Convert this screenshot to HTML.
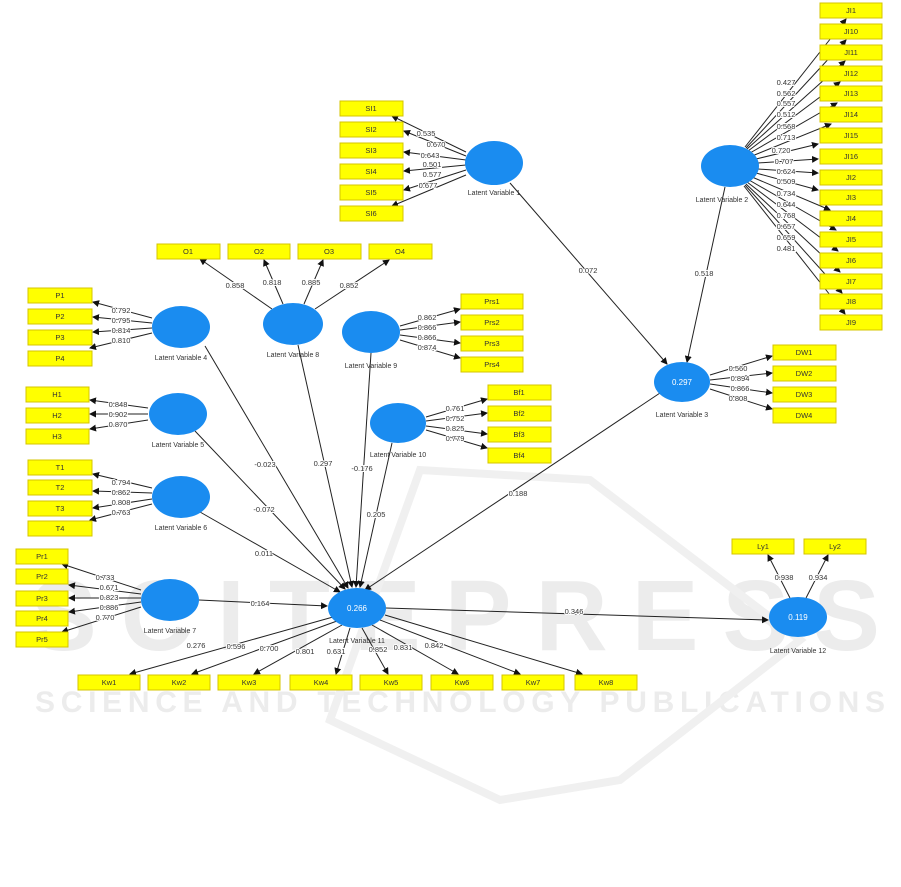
<!DOCTYPE html><html><head><style>body{margin:0;background:#fff}svg{display:block}text{font-family:"Liberation Sans",sans-serif}</style></head><body>
<svg width="901" height="887" viewBox="0 0 901 887" xmlns="http://www.w3.org/2000/svg">
<defs><marker id="a" markerWidth="7" markerHeight="7" refX="6" refY="3.5" orient="auto" markerUnits="userSpaceOnUse"><path d="M0,0L7,3.5L0,7z" fill="#111"/></marker></defs>
<g fill="#e6e6e6" font-weight="bold">
<text x="30" y="650" font-size="100" fill="#ececec" textLength="850">SCITEPRESS</text>
<text x="35" y="712" font-size="30" fill="#ececec" textLength="850">SCIENCE AND TECHNOLOGY PUBLICATIONS</text>
</g>
<path d="M330 720 L420 470 L590 480 L800 640 L620 780 L500 800Z" fill="none" stroke="#f0f0f0" stroke-width="8"/>
<g stroke="#222" stroke-width="1" marker-end="url(#a)" fill="none">
<!-- structural -->
<line x1="205" y1="346" x2="348" y2="588"/>
<line x1="298" y1="345" x2="352" y2="587"/>
<line x1="371" y1="353" x2="356" y2="587"/>
<line x1="392" y1="443" x2="360" y2="587"/>
<line x1="195" y1="431" x2="345" y2="589"/>
<line x1="200" y1="512" x2="340" y2="592"/>
<line x1="199" y1="600" x2="327" y2="606"/>
<line x1="660" y1="393" x2="365" y2="590"/>
<line x1="510" y1="183" x2="667" y2="364"/>
<line x1="725" y1="187" x2="687" y2="362"/>
<line x1="386" y1="608" x2="768" y2="620"/>
<!-- LV11 -> Kw -->
<line x1="333" y1="617" x2="130" y2="674"/>
<line x1="337" y1="621" x2="192" y2="674"/>
<line x1="342" y1="625" x2="254" y2="674"/>
<line x1="350" y1="628" x2="336" y2="674"/>
<line x1="362" y1="628" x2="388" y2="674"/>
<line x1="372" y1="625" x2="458" y2="674"/>
<line x1="380" y1="620" x2="520" y2="674"/>
<line x1="385" y1="615" x2="582" y2="674"/>
<!-- LV4 -> P -->
<line x1="152" y1="318" x2="93" y2="302"/><line x1="152" y1="323" x2="93" y2="317"/><line x1="152" y1="328" x2="93" y2="332"/><line x1="152" y1="333" x2="90" y2="348"/>
<line x1="148" y1="408" x2="90" y2="400"/><line x1="148" y1="414" x2="90" y2="414"/><line x1="148" y1="420" x2="90" y2="429"/>
<line x1="152" y1="488" x2="93" y2="474"/><line x1="152" y1="493" x2="93" y2="491"/><line x1="152" y1="499" x2="93" y2="508"/><line x1="152" y1="504" x2="90" y2="520"/>
<line x1="141" y1="590" x2="62" y2="564"/><line x1="141" y1="594" x2="69" y2="585"/><line x1="141" y1="598" x2="69" y2="598"/><line x1="141" y1="602" x2="69" y2="612"/><line x1="141" y1="607" x2="62" y2="632"/>
<!-- LV8 -> O -->
<line x1="272" y1="309" x2="200" y2="259"/><line x1="283" y1="304" x2="264" y2="260"/><line x1="304" y1="304" x2="323" y2="260"/><line x1="315" y1="309" x2="389" y2="260"/>
<!-- LV9 -> Prs -->
<line x1="400" y1="326" x2="460" y2="309"/><line x1="400" y1="330" x2="460" y2="322"/><line x1="400" y1="335" x2="460" y2="343"/><line x1="400" y1="340" x2="460" y2="358"/>
<line x1="426" y1="417" x2="487" y2="399"/><line x1="426" y1="421" x2="487" y2="413"/><line x1="426" y1="426" x2="487" y2="434"/><line x1="426" y1="430" x2="487" y2="448"/>
<!-- LV3 -> DW -->
<line x1="710" y1="375" x2="772" y2="356"/><line x1="710" y1="380" x2="772" y2="373"/><line x1="710" y1="384" x2="772" y2="393"/><line x1="710" y1="389" x2="772" y2="409"/>
<!-- LV12 -> Ly -->
<line x1="790" y1="598" x2="768" y2="555"/><line x1="806" y1="598" x2="828" y2="555"/>
<!-- LV1 -> SI -->
<line x1="466" y1="152" x2="392" y2="116"/><line x1="466" y1="156" x2="404" y2="131"/><line x1="466" y1="160" x2="404" y2="152"/><line x1="466" y1="165" x2="404" y2="171"/><line x1="466" y1="170" x2="404" y2="190"/><line x1="466" y1="175" x2="392" y2="206"/>
<!-- LV2 -> JI -->
<line x1="745" y1="147" x2="846" y2="19"/><line x1="746" y1="148" x2="846" y2="40"/><line x1="747" y1="149" x2="845" y2="61"/><line x1="748" y1="151" x2="840" y2="82"/><line x1="750" y1="153" x2="837" y2="103"/><line x1="752" y1="156" x2="831" y2="124"/><line x1="756" y1="159" x2="818" y2="144"/><line x1="758" y1="163" x2="818" y2="159"/><line x1="758" y1="169" x2="818" y2="173"/><line x1="756" y1="173" x2="818" y2="190"/><line x1="752" y1="177" x2="830" y2="210"/><line x1="749" y1="180" x2="836" y2="230"/><line x1="747" y1="182" x2="838" y2="251"/><line x1="746" y1="184" x2="840" y2="272"/><line x1="745" y1="185" x2="842" y2="293"/><line x1="744" y1="186" x2="845" y2="314"/>
</g>
<g fill="#1a8cf0">
<ellipse cx="181" cy="327" rx="29" ry="21"/><ellipse cx="293" cy="324" rx="30" ry="21"/><ellipse cx="371" cy="332" rx="29" ry="21"/>
<ellipse cx="178" cy="414" rx="29" ry="21"/><ellipse cx="398" cy="423" rx="28" ry="20"/><ellipse cx="181" cy="497" rx="29" ry="21"/>
<ellipse cx="170" cy="600" rx="29" ry="21"/><ellipse cx="357" cy="608" rx="29" ry="20"/><ellipse cx="798" cy="617" rx="29" ry="20"/>
<ellipse cx="682" cy="382" rx="28" ry="20"/><ellipse cx="494" cy="163" rx="29" ry="22"/><ellipse cx="730" cy="166" rx="29" ry="21"/>
</g>
<g fill="#fff" font-size="8" text-anchor="middle"><text x="357" y="611">0.266</text><text x="798" y="620">0.119</text><text x="682" y="385">0.297</text></g>
<g font-size="7" fill="#333" text-anchor="middle">
<text x="181" y="360">Latent Variable 4</text><text x="293" y="357">Latent Variable 8</text><text x="371" y="368">Latent Variable 9</text>
<text x="178" y="447">Latent Variable 5</text><text x="398" y="457">Latent Variable 10</text><text x="181" y="530">Latent Variable 6</text>
<text x="170" y="633">Latent Variable 7</text><text x="357" y="643">Latent Variable 11</text><text x="798" y="653">Latent Variable 12</text>
<text x="682" y="417">Latent Variable 3</text><text x="494" y="195">Latent Variable 1</text><text x="722" y="202">Latent Variable 2</text>
</g>
<g fill="#ff0" stroke="#d4c400" stroke-width="1">
<rect x="28" y="288" width="64" height="15"/><rect x="28" y="309" width="64" height="15"/><rect x="28" y="330" width="64" height="15"/><rect x="28" y="351" width="64" height="15"/>
<rect x="26" y="387" width="63" height="15"/><rect x="26" y="408" width="63" height="15"/><rect x="26" y="429" width="63" height="15"/>
<rect x="28" y="460" width="64" height="15"/><rect x="28" y="480" width="64" height="15"/><rect x="28" y="501" width="64" height="15"/><rect x="28" y="521" width="64" height="15"/>
<rect x="16" y="549" width="52" height="15"/><rect x="16" y="569" width="52" height="15"/><rect x="16" y="591" width="52" height="15"/><rect x="16" y="611" width="52" height="15"/><rect x="16" y="632" width="52" height="15"/>
<rect x="157" y="244" width="63" height="15"/><rect x="228" y="244" width="62" height="15"/><rect x="298" y="244" width="63" height="15"/><rect x="369" y="244" width="63" height="15"/>
<rect x="340" y="101" width="63" height="15"/><rect x="340" y="122" width="63" height="15"/><rect x="340" y="143" width="63" height="15"/><rect x="340" y="164" width="63" height="15"/><rect x="340" y="185" width="63" height="15"/><rect x="340" y="206" width="63" height="15"/>
<rect x="461" y="294" width="62" height="15"/><rect x="461" y="315" width="62" height="15"/><rect x="461" y="336" width="62" height="15"/><rect x="461" y="357" width="62" height="15"/>
<rect x="488" y="385" width="63" height="15"/><rect x="488" y="406" width="63" height="15"/><rect x="488" y="427" width="63" height="15"/><rect x="488" y="448" width="63" height="15"/>
<rect x="773" y="345" width="63" height="15"/><rect x="773" y="366" width="63" height="15"/><rect x="773" y="387" width="63" height="15"/><rect x="773" y="408" width="63" height="15"/>
<rect x="732" y="539" width="62" height="15"/><rect x="804" y="539" width="62" height="15"/>
<rect x="78" y="675" width="62" height="15"/><rect x="148" y="675" width="62" height="15"/><rect x="218" y="675" width="62" height="15"/><rect x="290" y="675" width="62" height="15"/><rect x="360" y="675" width="62" height="15"/><rect x="431" y="675" width="62" height="15"/><rect x="502" y="675" width="62" height="15"/><rect x="575" y="675" width="62" height="15"/>
<rect x="820" y="3" width="62" height="15"/><rect x="820" y="24" width="62" height="15"/><rect x="820" y="45" width="62" height="15"/><rect x="820" y="66" width="62" height="15"/><rect x="820" y="86" width="62" height="15"/><rect x="820" y="107" width="62" height="15"/><rect x="820" y="128" width="62" height="15"/><rect x="820" y="149" width="62" height="15"/><rect x="820" y="170" width="62" height="15"/><rect x="820" y="190" width="62" height="15"/><rect x="820" y="211" width="62" height="15"/><rect x="820" y="232" width="62" height="15"/><rect x="820" y="253" width="62" height="15"/><rect x="820" y="274" width="62" height="15"/><rect x="820" y="294" width="62" height="15"/><rect x="820" y="315" width="62" height="15"/>
</g>
<g font-size="7.5" fill="#333" text-anchor="middle">
<text x="60" y="298">P1</text><text x="60" y="319">P2</text><text x="60" y="340">P3</text><text x="60" y="361">P4</text>
<text x="57" y="397">H1</text><text x="57" y="418">H2</text><text x="57" y="439">H3</text>
<text x="60" y="470">T1</text><text x="60" y="490">T2</text><text x="60" y="511">T3</text><text x="60" y="531">T4</text>
<text x="42" y="559">Pr1</text><text x="42" y="579">Pr2</text><text x="42" y="601">Pr3</text><text x="42" y="621">Pr4</text><text x="42" y="642">Pr5</text>
<text x="188" y="254">O1</text><text x="259" y="254">O2</text><text x="329" y="254">O3</text><text x="400" y="254">O4</text>
<text x="371" y="111">SI1</text><text x="371" y="132">SI2</text><text x="371" y="153">SI3</text><text x="371" y="174">SI4</text><text x="371" y="195">SI5</text><text x="371" y="216">SI6</text>
<text x="492" y="304">Prs1</text><text x="492" y="325">Prs2</text><text x="492" y="346">Prs3</text><text x="492" y="367">Prs4</text>
<text x="519" y="395">Bf1</text><text x="519" y="416">Bf2</text><text x="519" y="437">Bf3</text><text x="519" y="458">Bf4</text>
<text x="804" y="355">DW1</text><text x="804" y="376">DW2</text><text x="804" y="397">DW3</text><text x="804" y="418">DW4</text>
<text x="763" y="549">Ly1</text><text x="835" y="549">Ly2</text>
<text x="109" y="685">Kw1</text><text x="179" y="685">Kw2</text><text x="249" y="685">Kw3</text><text x="321" y="685">Kw4</text><text x="391" y="685">Kw5</text><text x="462" y="685">Kw6</text><text x="533" y="685">Kw7</text><text x="606" y="685">Kw8</text>
<text x="851" y="13">JI1</text><text x="851" y="34">JI10</text><text x="851" y="55">JI11</text><text x="851" y="76">JI12</text><text x="851" y="96">JI13</text><text x="851" y="117">JI14</text><text x="851" y="138">JI15</text><text x="851" y="159">JI16</text><text x="851" y="180">JI2</text><text x="851" y="200">JI3</text><text x="851" y="221">JI4</text><text x="851" y="242">JI5</text><text x="851" y="263">JI6</text><text x="851" y="284">JI7</text><text x="851" y="304">JI8</text><text x="851" y="325">JI9</text>
</g>
<g font-size="7.5" fill="#333" text-anchor="middle" paint-order="stroke" stroke="#fff" stroke-width="2">
<text x="121" y="313">0.792</text><text x="121" y="323">0.795</text><text x="121" y="333">0.814</text><text x="121" y="343">0.810</text>
<text x="118" y="407">0.848</text><text x="118" y="417">0.902</text><text x="118" y="427">0.870</text>
<text x="121" y="485">0.794</text><text x="121" y="495">0.862</text><text x="121" y="505">0.808</text><text x="121" y="515">0.763</text>
<text x="105" y="580">0.733</text><text x="109" y="590">0.671</text><text x="109" y="600">0.823</text><text x="109" y="610">0.886</text><text x="105" y="620">0.770</text>
<text x="235" y="288">0.858</text><text x="272" y="285">0.818</text><text x="311" y="285">0.885</text><text x="349" y="288">0.852</text>
<text x="427" y="320">0.862</text><text x="427" y="330">0.866</text><text x="427" y="340">0.866</text><text x="427" y="350">0.874</text>
<text x="455" y="411">0.761</text><text x="455" y="421">0.752</text><text x="455" y="431">0.825</text><text x="455" y="441">0.779</text>
<text x="738" y="371">0.560</text><text x="740" y="381">0.894</text><text x="740" y="391">0.866</text><text x="738" y="401">0.808</text>
<text x="426" y="136">0.535</text><text x="436" y="147">0.670</text><text x="430" y="158">0.643</text><text x="432" y="167">0.501</text><text x="432" y="177">0.577</text><text x="428" y="188">0.677</text>
<text x="786" y="85">0.427</text><text x="786" y="96">0.562</text><text x="786" y="106">0.557</text><text x="786" y="117">0.512</text><text x="786" y="129">0.568</text><text x="786" y="140">0.713</text><text x="781" y="153">0.720</text><text x="784" y="164">0.707</text><text x="786" y="174">0.624</text><text x="786" y="184">0.509</text><text x="786" y="196">0.734</text><text x="786" y="207">0.644</text><text x="786" y="218">0.768</text><text x="786" y="229">0.657</text><text x="786" y="240">0.659</text><text x="786" y="251">0.481</text>
<text x="265" y="467">-0.023</text><text x="323" y="466">0.297</text><text x="362" y="471">-0.176</text><text x="376" y="517">0.205</text><text x="264" y="512">-0.072</text><text x="264" y="556">0.011</text>
<text x="260" y="606">0.164</text><text x="518" y="496">0.188</text><text x="588" y="273">0.072</text><text x="704" y="276">0.518</text><text x="574" y="614">0.346</text>
<text x="784" y="580">0.938</text><text x="818" y="580">0.934</text>
<text x="196" y="648">0.276</text><text x="236" y="649">0.596</text><text x="269" y="651">0.700</text><text x="305" y="654">0.801</text><text x="336" y="654">0.631</text><text x="378" y="652">0.852</text><text x="403" y="650">0.831</text><text x="434" y="648">0.842</text>
</g>
</svg></body></html>
